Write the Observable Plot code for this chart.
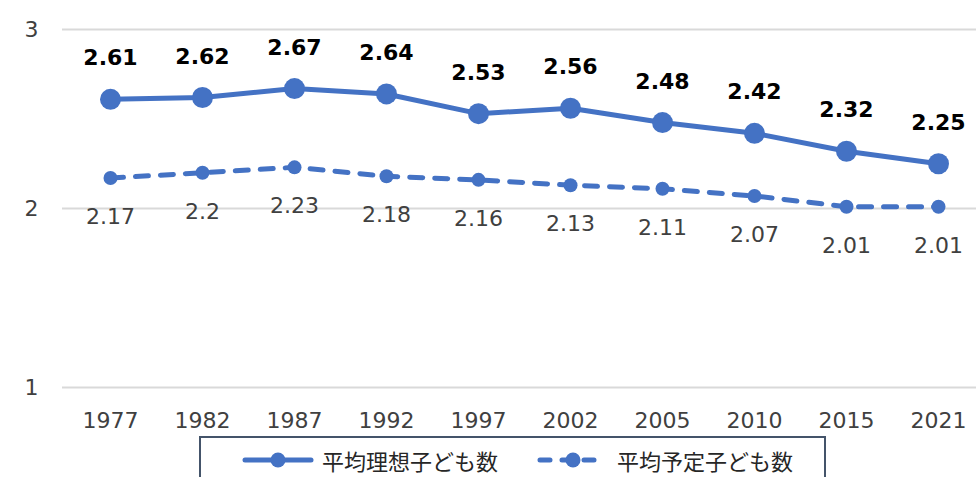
<!DOCTYPE html>
<html>
<head>
<meta charset="utf-8">
<script src="https://cdn.jsdelivr.net/npm/d3@7"></script>
<script src="https://cdn.jsdelivr.net/npm/@observablehq/plot@0.6"></script>
<style>
  body { margin: 0; background: #fff; }
  #wrap { position: relative; width: 976px; height: 477px; overflow: hidden; }
  #legend {
    position: absolute; left: 199px; top: 436px; width: 627px; height: 60px;
    border: 2px solid #44546a; box-sizing: border-box;
    font-family: "Noto Sans CJK JP", sans-serif; font-size: 22px; color: #262626;
  }
  .item { position: absolute; top: 4px; display: flex; align-items: center; height: 36px; }
  .item svg { margin-right: 8px; }
</style>
</head>
<body>
<div id="wrap">
  <div id="chart"></div>
  <div id="legend"></div>
</div>
<script>
const years = ["1977","1982","1987","1992","1997","2002","2005","2010","2015","2021"];
const idealValues = [2.61, 2.62, 2.67, 2.64, 2.53, 2.56, 2.48, 2.42, 2.32, 2.25];
const plannedValues = [2.17, 2.2, 2.23, 2.18, 2.16, 2.13, 2.11, 2.07, 2.01, 2.01];
const yTicks = [1, 2, 3];
const seriesNames = ["平均理想子ども数", "平均予定子ども数"];

const blue = "#4472c4";
const ideal = years.map((y, i) => ({year: y, value: idealValues[i]}));
const planned = years.map((y, i) => ({year: y, value: plannedValues[i]}));

const chart = Plot.plot({
  width: 976,
  height: 436,
  marginLeft: 62,
  marginRight: 0,
  marginTop: 29,
  marginBottom: 49,
  style: {fontFamily: "'DejaVu Sans', Verdana, sans-serif", fontSize: "22px", color: "#404040", background: "white"},
  x: {type: "point", domain: years, range: [108, 939], padding: 0, label: null},
  y: {domain: [1, 3], label: null},
  marks: [
    Plot.ruleY(yTicks, {stroke: "#d9d9d9", strokeWidth: 2}),
    Plot.axisY({ticks: yTicks, tickFormat: d => String(d), tickSize: 0, tickPadding: 24, label: null, fill: "#404040", fontSize: 22}),
    Plot.axisX({tickSize: 0, tickPadding: 25, label: null, fill: "#404040", fontSize: 22}),
    Plot.line(planned, {x: "year", y: "value", stroke: blue, strokeWidth: 5, strokeDasharray: "13,12", strokeLinecap: "round"}),
    Plot.dot(planned, {x: "year", y: "value", r: 7, fill: blue}),
    Plot.line(ideal, {x: "year", y: "value", stroke: blue, strokeWidth: 5}),
    Plot.dot(ideal, {x: "year", y: "value", r: 10.5, fill: blue}),
    Plot.text(ideal, {x: "year", y: "value", text: d => String(d.value), dy: -41, fill: "#000", fontWeight: "bold", fontSize: 22}),
    Plot.text(planned, {x: "year", y: "value", text: d => String(d.value), dy: 39, fill: "#404040", fontSize: 22})
  ]
});
document.getElementById("chart").appendChild(chart);

const legend = document.getElementById("legend");
const items = [
  {left: 41, name: seriesNames[0], dash: null, r: 7.5},
  {left: 336, name: seriesNames[1], dash: "10,12", r: 7.5}
];
items.forEach(it => {
  const div = document.createElement("div");
  div.className = "item";
  div.style.left = it.left + "px";
  const dashAttr = it.dash ? `stroke-dasharray="${it.dash}"` : "";
  div.innerHTML = `<svg width="72" height="20"><line x1="3" y1="10" x2="69" y2="10" stroke="${blue}" stroke-width="5" stroke-linecap="round" ${dashAttr}/><circle cx="36" cy="10" r="${it.r}" fill="${blue}"/></svg><span>${it.name}</span>`;
  legend.appendChild(div);
});
</script>
</body>
</html>
